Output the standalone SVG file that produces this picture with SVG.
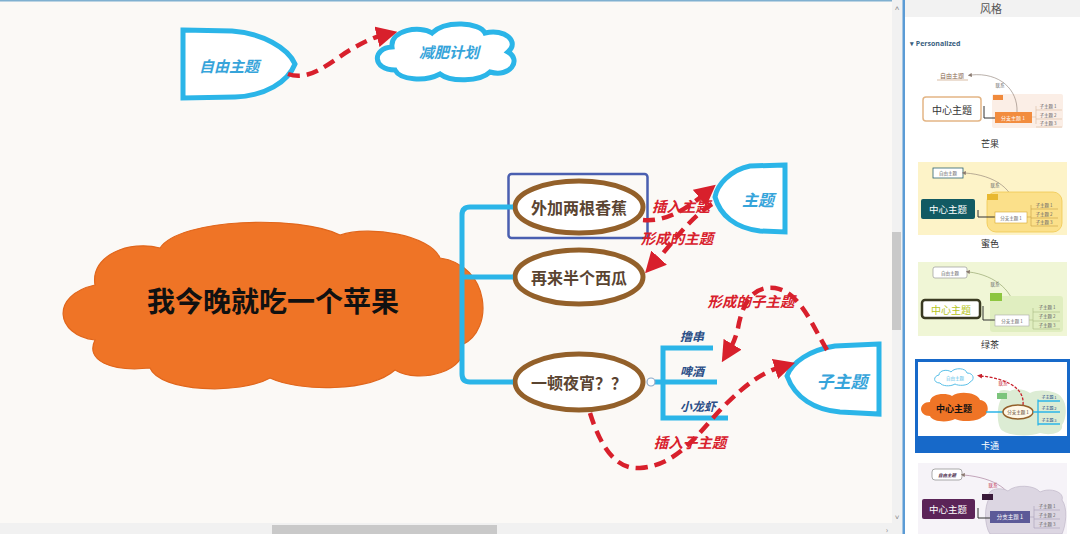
<svg xmlns="http://www.w3.org/2000/svg" width="1080" height="534" viewBox="0 0 1080 534">
<defs>
<marker id="ah" viewBox="0 0 20 20" markerWidth="21" markerHeight="21" refX="3" refY="10" orient="auto" markerUnits="userSpaceOnUse">
<path d="M0,0 L20,10 L0,20 Z" fill="#d8202c"/>
</marker>
<marker id="ahs" viewBox="0 0 10 10" markerWidth="5" markerHeight="5" refX="2" refY="5" orient="auto" markerUnits="userSpaceOnUse">
<path d="M0,0 L10,5 L0,10 Z" fill="#c8202c"/>
</marker>
<marker id="ahg" viewBox="0 0 10 10" markerWidth="4" markerHeight="4" refX="2" refY="5" orient="auto" markerUnits="userSpaceOnUse">
<path d="M0,0 L10,5 L0,10 Z" fill="#8a7a70"/>
</marker>
</defs>
<style>
text{font-family:"Noto Sans CJK SC","Liberation Sans",sans-serif;dominant-baseline:central;text-anchor:middle}
.cy{fill:#fff;stroke:#2bb5e8;stroke-width:5}
.cyt{fill:#36a4da;font-style:italic;font-weight:bold}
.br{fill:#fff;stroke:#93602a;stroke-width:5}
.brt{fill:#5a4431;font-weight:bold;font-size:16px}
.bl{fill:none;stroke:#2bb5e8;stroke-width:5}
.rel{fill:none;stroke:#d8202c;stroke-width:4.5;stroke-dasharray:12 7;marker-end:url(#ah)}
.rlt{fill:#d8202c;font-style:italic;font-weight:bold;font-size:14.5px}
.sub{fill:#2b4e87;font-style:italic;font-weight:bold;font-size:12px;text-anchor:start}
.tn{font-size:4.5px;fill:#666}
.cap{font-size:9px;fill:#333}
.thin{fill:none;stroke-width:0.6}
</style>
<!-- canvas -->
<rect x="0" y="0" width="903" height="534" fill="#fbf9f6"/>
<line x1="0" y1="0.8" x2="903" y2="0.8" stroke="#7fb0d0" stroke-width="1.6"/>
<!-- scrollbars -->
<rect x="892" y="0" width="11" height="523" fill="#f1f1f1"/>
<rect x="892" y="232" width="9" height="98" fill="#c9c9c9"/>
<text x="897" y="7" style="font-size:8px;fill:#888">˄</text>
<text x="897" y="516" style="font-size:8px;fill:#888">˅</text>
<rect x="0" y="523" width="903" height="11" fill="#f1f1f1"/>
<rect x="272" y="525" width="225" height="9" fill="#c9c9c9"/>
<text x="887" y="529" style="font-size:8px;fill:#888">›</text>
<rect x="902.5" y="0" width="2.5" height="534" fill="#5b9bd5"/>

<g id="central">
<path d="M95,340 C55,335 50,295 95,285 C90,255 130,240 160,248 C180,218 300,215 340,235 C370,225 430,235 440,258 C490,265 495,330 462,345 C470,370 420,385 395,370 C370,392 300,392 270,378 C240,395 160,392 150,368 C110,372 85,360 95,340 Z" fill="#ef7426" stroke="#e0661c" stroke-width="1.2"/>
<text x="273" y="300" style="font-size:28px;font-weight:bold;fill:#111">我今晚就吃一个苹果</text>
</g>

<g id="free-topic">
<path d="M183,30 L232,31 C262,33 288,48 295,64 C288,82 265,96 235,97 L183,98 Z" class="cy"/>
<text x="229" y="65" class="cyt" style="font-size:15px">自由主题</text>
</g>

<g id="diet-plan">
<path d="M395,70 C372,70 372,48 392,47 C390,30 420,25 432,33 C445,20 480,22 485,33 C505,28 520,42 508,52 C522,60 510,78 490,72 C480,82 450,82 440,74 C425,82 400,80 395,70 Z" class="cy"/>
<text x="449" y="51" class="cyt" style="font-size:15px">减肥计划</text>
</g>

<g id="banana">
<ellipse cx="579" cy="207" rx="64" ry="26" class="br"/>
<text x="579" y="207" class="brt">外加两根香蕉</text>
<rect x="508.5" y="174" width="139" height="64" rx="3" fill="none" stroke="#4a5fb0" stroke-width="2.5"/>
</g>

<g id="watermelon">
<ellipse cx="579" cy="277" rx="64" ry="27" class="br"/>
<text x="579" y="277" class="brt">再来半个西瓜</text>
</g>

<g id="supper">
<ellipse cx="579" cy="382" rx="64" ry="28" class="br"/>
<text x="579" y="382" class="brt">一顿夜宵？？</text>
</g>

<g id="topic">
<path d="M785,165 L750,166 C730,170 717,185 715,197 C720,215 735,228 760,231 L785,232 Z" class="cy"/>
<text x="758" y="199" class="cyt" style="font-size:16px">主题</text>
</g>

<g id="subtopic">
<path d="M879,344 L835,346 C810,350 792,362 787,376 C795,398 815,410 840,412 L879,414 Z" class="cy"/>
<text x="842" y="380" class="cyt" style="font-size:17px">子主题</text>
</g>

<g id="sub-items">
<text x="680" y="335" class="sub">撸串</text>
<text x="680" y="370" class="sub">啤酒</text>
<text x="680" y="405" class="sub">小龙虾</text>
</g>

<g id="connectors">
<path d="M513,207 L470,207 Q462,207 462,215 L462,374 Q462,382 470,382 L513,382 M462,277 L513,277" class="bl"/>
<path d="M655,382 L717,382 M663,348 L713,348 M663,345.5 L663,420.5 M663,418 L728,418" class="bl"/>
<circle cx="651" cy="382" r="4" fill="#fff" stroke="#8aa8c8" stroke-width="1.2"/>
<path d="M288,74 C310,82 330,62 350,50 C362,43 372,38 380,36" class="rel"/>
<path d="M643,220 C665,222 685,210 702,196" class="rel"/>
<path d="M712,204 C690,218 675,240 657,260" class="rel"/>
<path d="M827,350 C812,325 800,292 775,288 C752,285 742,305 738,328 C736,336 734,342 731,347" class="rel"/>
<path d="M590,413 C600,445 615,470 640,468 C680,465 700,430 725,405 C745,385 762,373 778,368" class="rel"/>
<text x="681" y="205" class="rlt">插入主题</text>
<text x="677" y="237" class="rlt">形成的主题</text>
<text x="751" y="300" class="rlt">形成的子主题</text>
<text x="690" y="441" class="rlt">插入子主题</text>
</g>

<!-- right panel -->
<g id="style-panel">
<rect x="905" y="0" width="175" height="534" fill="#ffffff"/>
<rect x="905" y="0" width="175" height="17" fill="#f2f2f2"/>
<text x="991" y="8" style="font-size:11px;fill:#555">风格</text>
<text x="910" y="43" style="font-size:7px;fill:#3a6080;font-weight:bold;text-anchor:start;font-family:'Open Sans','Liberation Sans',sans-serif">▾ Personalized</text>

<!-- 芒果 -->
<g id="theme-mango">
<rect x="992" y="94" width="71" height="34" rx="2" fill="#fbeee6"/>
<text x="952" y="75" class="tn" style="font-size:6px;fill:#8a6a50">自由主题</text>
<line x1="937" y1="80" x2="968" y2="80" stroke="#c8a080" stroke-width="0.7"/>
<path d="M1017,112 C1018,90 1000,72 971,75" class="thin" stroke="#8a7a70" marker-end="url(#ahg)"/>
<text x="1000" y="85" class="tn">联系</text>
<rect x="923" y="97" width="58" height="24" rx="3" fill="#fff" stroke="#e3b585" stroke-width="1.5"/>
<text x="952" y="109" style="font-size:10px;fill:#333">中心主题</text>
<path d="M984,106 L984,118 L995,118" fill="none" stroke="#333" stroke-width="1"/>
<rect x="993" y="95" width="10" height="5" fill="#f08a3c"/>
<rect x="995" y="112" width="37" height="11" fill="#f28c3e"/>
<text x="1013" y="117.5" class="tn" style="font-size:5px;fill:#fff">分支主题 1</text>
<path d="M1032,117 L1036,117 M1036,106 L1036,124 M1036,110 L1062,110 M1036,119 L1062,119 M1036,127 L1062,127" class="thin" stroke="#d8b8a0"/>
<text x="1048" y="106" class="tn">子主题 1</text>
<text x="1048" y="115" class="tn">子主题 2</text>
<text x="1048" y="123" class="tn">子主题 3</text>
<text x="990" y="143" class="cap">芒果</text>
</g>

<!-- 蜜色 -->
<g id="theme-honey">
<rect x="918" y="162" width="149" height="73" fill="#fdf3c8"/>
<rect x="933" y="168" width="30" height="10" fill="#fff" stroke="#2b6270" stroke-width="0.8"/>
<text x="948" y="173" class="tn">自由主题</text>
<path d="M1015,212 C1016,190 995,175 965,173" class="thin" stroke="#8a7a70" marker-end="url(#ahg)"/>
<text x="995" y="185" class="tn">联系</text>
<rect x="921" y="199" width="54" height="20" rx="2" fill="#125a63"/>
<text x="948" y="209" style="font-size:9.5px;fill:#fff">中心主题</text>
<rect x="987" y="192" width="75" height="40" rx="9" fill="#fbe08a" stroke="#f0c850" stroke-width="0.8"/>
<rect x="987" y="194" width="11" height="6" fill="#e8b830"/>
<path d="M978,210 L978,217 L995,217" fill="none" stroke="#333" stroke-width="1"/>
<rect x="995" y="212" width="32" height="11" fill="#fff" stroke="#d8a830" stroke-width="0.6"/>
<text x="1011" y="217.5" class="tn">分支主题 1</text>
<path d="M1027,217 L1031,217 M1031,205 L1031,226 M1031,209 L1058,209 M1031,218 L1058,218 M1031,226 L1058,226" class="thin" stroke="#c8a040"/>
<text x="1044" y="205" class="tn">子主题 1</text>
<text x="1044" y="214" class="tn">子主题 2</text>
<text x="1044" y="222" class="tn">子主题 3</text>
<text x="990" y="243" class="cap">蜜色</text>
</g>

<!-- 绿茶 -->
<g id="theme-greentea">
<rect x="918" y="262" width="149" height="74" fill="#f0f6d6"/>
<rect x="933" y="267" width="34" height="11" rx="2" fill="#fff" stroke="#999" stroke-width="0.7"/>
<text x="950" y="272.5" class="tn">自由主题</text>
<path d="M1015,315 C1016,292 995,275 969,272" class="thin" stroke="#8a9a60" marker-end="url(#ahg)"/>
<text x="995" y="284" class="tn">联系</text>
<rect x="922" y="300" width="58" height="18" rx="3" fill="#fff" stroke="#3a3a22" stroke-width="2.5"/>
<text x="951" y="309" style="font-size:10px;fill:#b5c520">中心主题</text>
<rect x="990" y="296" width="73" height="36" rx="3" fill="#e0eec0"/>
<rect x="990" y="293" width="12" height="8" fill="#8dc63f"/>
<path d="M983,306 L983,320 L995,320" fill="none" stroke="#333" stroke-width="1"/>
<rect x="995" y="315" width="34" height="11" fill="#fff" stroke="#aaa" stroke-width="0.6"/>
<text x="1012" y="320.5" class="tn">分支主题 1</text>
<path d="M1029,320 L1033,320 M1033,308 L1033,329 M1033,312 L1060,312 M1033,321 L1060,321 M1033,329 L1060,329" class="thin" stroke="#a8b880"/>
<text x="1047" y="307" class="tn">子主题 1</text>
<text x="1047" y="316" class="tn">子主题 2</text>
<text x="1047" y="325" class="tn">子主题 3</text>
<text x="990" y="344" class="cap">绿茶</text>
</g>

<!-- 卡通 -->
<g id="theme-cartoon">
<rect x="915" y="359" width="155" height="94" fill="#1769c9"/>
<rect x="918" y="362" width="149" height="74" fill="#fff"/>
<path d="M940,383 C933,383 933,376 939,375 C939,370 948,369 951,372 C955,367 966,368 967,373 C974,373 975,380 970,382 C968,386 958,386 955,384 C950,387 942,386 940,383 Z" fill="#fff" stroke="#5ac0e8" stroke-width="1"/>
<text x="955" y="378" class="tn" style="fill:#5ac0e8">自由主题</text>
<path d="M1003,397 C996,392 999,388 1010,391 C1015,388 1025,389 1030,393 C1040,388 1058,391 1062,398 C1068,405 1066,420 1062,425 C1064,433 1050,436 1040,433 C1030,437 1010,436 1003,431 C996,428 996,402 1003,397 Z" fill="#dcecd4"/>
<rect x="997" y="393" width="10" height="6" fill="#7cc47c"/>
<path d="M1023,405 C1025,386 1002,378 981,376" fill="none" stroke="#c8202c" stroke-width="1.3" stroke-dasharray="3 1.5" marker-end="url(#ahs)"/>
<text x="1003" y="383" class="tn" style="fill:#c8202c">联系</text>
<path d="M930,416 C918,416 918,402 930,402 C930,394 945,392 952,396 C960,390 978,393 980,400 C990,401 990,415 982,417 C978,422 960,422 955,419 C948,423 932,422 930,416 Z" fill="#ef7426"/>
<text x="954" y="408" style="font-size:9px;font-weight:bold;fill:#111">中心主题</text>
<line x1="986" y1="412" x2="1003" y2="412" stroke="#2bb5e8" stroke-width="1.5"/>
<ellipse cx="1018" cy="412" rx="15" ry="7" fill="#fff8e8" stroke="#93602a" stroke-width="1.5"/>
<text x="1018" y="412" class="tn" style="font-size:4.5px;fill:#5a4431">分支主题 1</text>
<path d="M1033,412 L1038,412 M1038,399.5 L1038,425.5 M1038,401 L1060,401 M1038,412 L1060,412 M1038,424 L1060,424" fill="none" stroke="#2bb5e8" stroke-width="1.3"/>
<text x="1049" y="397" class="tn" style="font-size:4px;fill:#2b4e87">子主题 1</text>
<text x="1049" y="408" class="tn" style="font-size:4px;fill:#2b4e87">子主题 2</text>
<text x="1049" y="420" class="tn" style="font-size:4px;fill:#2b4e87">子主题 3</text>
<text x="990" y="445" class="cap" style="fill:#fff">卡通</text>
</g>

<!-- purple theme -->
<g id="theme-purple">
<rect x="918" y="463" width="149" height="71" fill="#f6f3f8"/>
<rect x="932" y="469" width="30" height="11" rx="3" fill="#fff" stroke="#888" stroke-width="0.7"/>
<text x="947" y="474.5" class="tn" style="font-style:italic;font-weight:bold;fill:#4a2a4a">自由主题</text>
<path d="M1015,511 C1014,490 995,478 964,475" class="thin" stroke="#a07090" marker-end="url(#ahg)"/>
<text x="993" y="485" class="tn" style="fill:#c03050">联系</text>
<rect x="922" y="499" width="53" height="20" rx="2" fill="#5b2458"/>
<text x="948" y="509" style="font-size:9.5px;fill:#fff">中心主题</text>
<path d="M990,497 C985,490 1000,486 1008,491 C1015,484 1035,485 1040,492 C1050,487 1065,492 1062,500 C1068,508 1066,525 1062,534 L990,534 C984,525 984,505 990,497 Z" fill="#dcd6e2" stroke="#c0b8c8" stroke-width="0.7"/>
<rect x="982" y="494" width="11" height="6" fill="#3a1a3a"/>
<path d="M978,508 L978,518 L990,518" fill="none" stroke="#333" stroke-width="1"/>
<rect x="990" y="511" width="40" height="12" fill="#5c5a98"/>
<text x="1010" y="517" class="tn" style="font-size:5.5px;fill:#fff">分支主题 1</text>
<path d="M1030,517 L1034,517 M1034,506 L1034,528 M1034,510 L1060,510 M1034,519 L1060,519 M1034,528 L1060,528" class="thin" stroke="#a8a0b8"/>
<text x="1047" y="506" class="tn">子主题 1</text>
<text x="1047" y="515" class="tn">子主题 2</text>
<text x="1047" y="524" class="tn">子主题 3</text>
</g>
</g>
</svg>
